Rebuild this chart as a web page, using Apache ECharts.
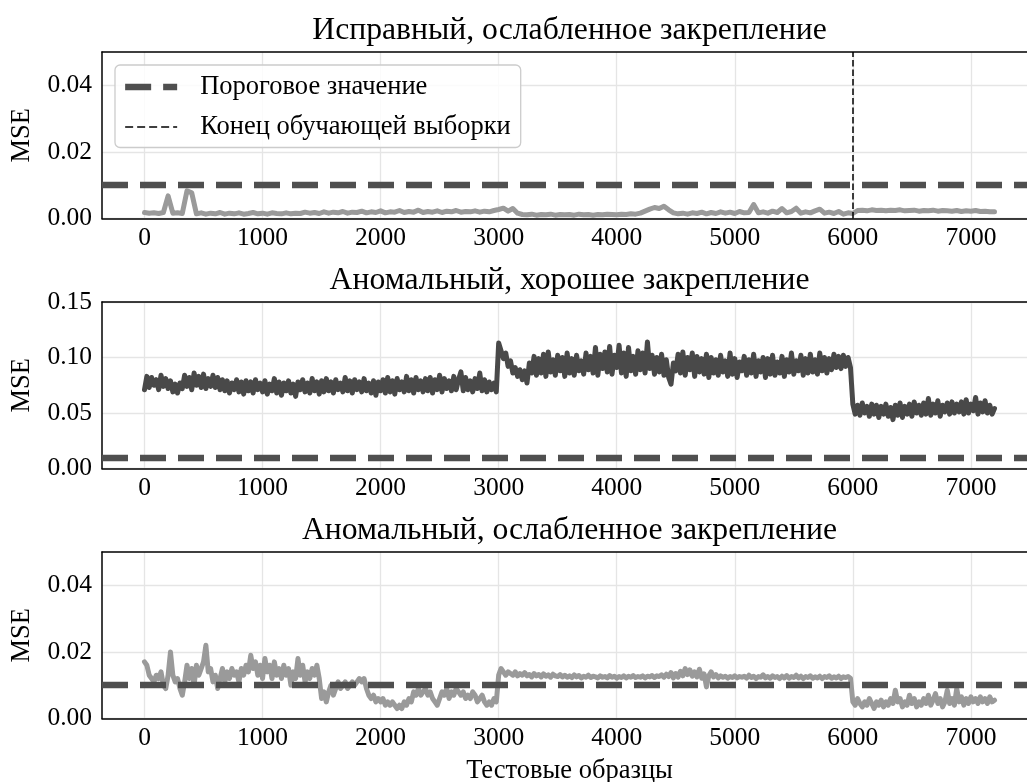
<!DOCTYPE html>
<html lang="ru">
<head>
<meta charset="utf-8">
<title>MSE: тестовые образцы</title>
<script src="https://cdn.jsdelivr.net/npm/echarts@6/dist/echarts.min.js"></script>
<style>
    html, body { margin: 0; padding: 0; background: #fff; }
    #chart { width: 1027px; height: 782px; }
</style>
</head>
<body>
<div id="chart"></div>
<script>
// ---- данные ----
var panelTitles = ['Исправный, ослабленное закрепление', 'Аномальный, хорошее закрепление', 'Аномальный, ослабленное закрепление'];
var threshold = 0.01;      // пороговое значение
var trainEnd = 6000;       // конец обучающей выборки
var xTicks = [0, 1000, 2000, 3000, 4000, 5000, 6000, 7000];
var yTicksSmall = [0, 0.02, 0.04];
var yTicksBig = [0, 0.05, 0.10, 0.15];

// шаг по образцам для каждой кривой
var step1 = 40, step2 = 20, step3 = 20;

// Исправный, ослабленное закрепление (шаг 40)
var mse1 = [
    .0018, .0016, .0017, .0015, .0018, .0068, .0016, .0017, .0015, .0083,
    .0077, .0014, .0017, .0013, .0016, .0014, .0018, .0013, .0016, .0014,
    .0017, .0013, .0015, .0018, .0014, .0016, .0013, .0017, .0015, .0014,
    .0017, .0014, .0016, .0015, .0019, .0016, .0018, .0015, .0020, .0016,
    .0019, .0017, .0021, .0016, .0019, .0018, .0022, .0017, .0020, .0018,
    .0023, .0017, .0020, .0019, .0024, .0018, .0021, .0019, .0025, .0018,
    .0021, .0019, .0023, .0018, .0022, .0020, .0024, .0019, .0021, .0020,
    .0023, .0019, .0022, .0020, .0024, .0027, .0031, .0022, .0030, .0016,
    .0012, .0011, .0013, .0010, .0012, .0011, .0013, .0010, .0012, .0011,
    .0012, .0010, .0013, .0011, .0012, .0010, .0012, .0011, .0013, .0012,
    .0011, .0013, .0012, .0014, .0013, .0016, .0022, .0028, .0033, .0030,
    .0037, .0026, .0017, .0014, .0016, .0013, .0017, .0015, .0019, .0014,
    .0018, .0015, .0020, .0016, .0019, .0015, .0021, .0017, .0018, .0042,
    .0017, .0020, .0016, .0022, .0018, .0030, .0017, .0021, .0031, .0016,
    .0020, .0017, .0023, .0028, .0016, .0019, .0015, .0021, .0013, .0017,
    .0015, .0024, .0025, .0023, .0026, .0024, .0025, .0023, .0025, .0024,
    .0026, .0023, .0024, .0025, .0022, .0024, .0023, .0025, .0022, .0024,
    .0023, .0022, .0024, .0021, .0023, .0022, .0024, .0021, .0022, .0020,
    .0020
];

// Аномальный, хорошее закрепление (шаг 20)
var mse2 = [
    // 0 .. 2980
    .071, .083, .073, .082, .075, .080, .071, .084, .074, .081, .072, .079, .069, .076, .068,
    .077, .072, .084, .074, .082, .071, .086, .075, .083, .073, .085, .072, .081, .074, .084,
    .073, .082, .071, .080, .070, .079, .068, .077, .071, .080, .069, .078, .067, .079, .070,
    .078, .068, .080, .071, .077, .069, .079, .067, .076, .070, .081, .068, .078, .066, .077,
    .070, .079, .068, .076, .065, .078, .071, .080, .069, .077, .068, .081, .070, .078, .067,
    .079, .069, .081, .070, .078, .068, .080, .071, .077, .069, .082, .070, .079, .068, .080,
    .071, .078, .069, .081, .070, .077, .068, .079, .066, .078, .070, .080, .068, .082, .069,
    .079, .067, .081, .071, .078, .069, .083, .070, .080, .068, .082, .071, .079, .069, .081,
    .070, .082, .068, .080, .071, .084, .069, .081, .072, .079, .070, .083, .071, .080, .087,
    .070, .082, .071, .079, .069, .081, .072, .086, .070, .080, .069, .078, .071, .077, .069,
    // 3000 .. 5980
    .113, .106, .099, .104, .092, .097, .086, .091, .083, .089, .080, .088, .077, .095, .086,
    .101, .084, .099, .086, .103, .083, .105, .087, .098, .084, .102, .088, .100, .083, .104,
    .086, .099, .084, .102, .088, .097, .085, .104, .089, .101, .086, .109, .084, .103, .090,
    .105, .087, .110, .085, .102, .091, .111, .086, .104, .083, .109, .088, .101, .085, .106,
    .089, .104, .086, .114, .090, .102, .085, .100, .087, .103, .084, .098, .082, .076, .095,
    .088, .103, .086, .105, .084, .100, .089, .104, .083, .101, .087, .099, .085, .103, .082,
    .100, .086, .098, .084, .102, .087, .097, .083, .104, .085, .099, .082, .096, .088, .101,
    .084, .098, .086, .103, .083, .097, .087, .100, .082, .099, .085, .102, .084, .096, .086,
    .101, .083, .098, .087, .104, .085, .097, .088, .102, .084, .099, .086, .103, .087, .098,
    .085, .104, .088, .100, .086, .099, .089, .103, .091, .101, .090, .102, .092, .100, .091,
    // 6000 .. 7200
    .058, .049, .057, .048, .059, .050, .056, .047, .058, .049, .057, .046, .056, .049, .058,
    .047, .055, .044, .057, .048, .059, .046, .056, .049, .058, .047, .060, .050, .057, .048,
    .059, .049, .063, .048, .058, .050, .061, .047, .057, .051, .059, .049, .060, .050, .058,
    .051, .060, .049, .062, .050, .058, .052, .064, .049, .059, .051, .061, .050, .057, .049,
    .054
];

// Аномальный, ослабленное закрепление (шаг 20)
var mse3 = [
    // 0 .. 2980
    .017, .016, .013, .012, .011, .013, .012, .014, .010, .009, .013, .020, .013, .011, .012,
    .009, .007, .011, .016, .012, .015, .010, .016, .013, .015, .017, .022, .014, .015, .011,
    .013, .009, .012, .015, .011, .014, .012, .015, .013, .014, .011, .015, .013, .016, .014,
    .019, .015, .017, .013, .016, .012, .018, .014, .016, .012, .017, .013, .015, .012, .016,
    .013, .015, .010, .014, .012, .018, .013, .016, .011, .014, .012, .015, .013, .016, .012,
    .006, .008, .005, .008, .010, .007, .009, .011, .009, .010, .011, .009, .010, .011, .010,
    .011, .012, .011, .012, .009, .007, .006, .007, .005, .006, .005, .006, .004, .005, .004,
    .005, .004, .003, .004, .003, .005, .004, .006, .005, .008, .007, .009, .007, .008, .009,
    .007, .008, .006, .005, .004, .006, .008, .007, .009, .006, .008, .007, .009, .008, .007,
    .008, .006, .007, .006, .008, .007, .005, .006, .007, .005, .004, .005, .004, .006, .005,
    // 3000 .. 5980
    .013, .015, .014, .013, .014, .0135, .013, .014, .0128, .0135, .013, .0138, .0128, .0132, .0125,
    .0135, .0128, .0132, .0125, .0134, .0127, .0131, .0124, .0133, .0128, .0126, .0132, .0125, .0130, .0124,
    .0128, .0123, .0131, .0125, .0129, .0122, .0127, .0124, .0130, .0123, .0127, .0125, .0122, .0128, .0124,
    .0126, .0122, .0129, .0124, .0127, .0121, .0126, .0123, .0128, .0122, .0127, .0124, .0129, .0123, .0126,
    .0124, .0128, .0122, .0127, .0125, .0129, .0123, .0128, .0126, .0131, .0124, .0133, .0126, .0138, .0122,
    .0135, .0124, .0142, .0128, .0150, .0132, .0146, .0127, .0140, .0125, .0148, .0121, .0134, .0095, .0128,
    .0140, .0125, .0132, .0122, .0128, .0124, .0127, .0121, .0126, .0123, .0128, .0122, .0126, .0124, .0127,
    .0121, .0130, .0123, .0127, .0120, .0126, .0124, .0131, .0122, .0126, .0121, .0128, .0123, .0126, .0120,
    .0127, .0122, .0129, .0121, .0126, .0123, .0130, .0122, .0127, .0120, .0126, .0123, .0128, .0121, .0125,
    .0122, .0127, .0120, .0126, .0123, .0128, .0121, .0125, .0122, .0127, .0120, .0125, .0123, .0126, .0121,
    // 6000 .. 7200
    .005, .004, .006, .0045, .0035, .005, .004, .006, .0045, .003, .005, .004, .0055, .0035, .005,
    .004, .006, .0045, .0085, .005, .006, .0035, .005, .004, .007, .0045, .006, .0035, .005, .004,
    .006, .0045, .007, .004, .0055, .0075, .0045, .006, .0035, .005, .0085, .0045, .006, .004, .009,
    .005, .0065, .004, .006, .0045, .0065, .005, .006, .0045, .0065, .005, .006, .0045, .0065, .005,
    .0055
];

// ---- оформление ----
var FONT = 'Liberation Serif';
var gridTops = [52, 302, 552];
var lineColors = ['#9a9a9a', '#494949', '#9a9a9a'];
var yMax = [0.05, 0.15, 0.05];
var yTicks = [yTicksSmall, yTicksBig, yTicksSmall];
var seriesVals = [[mse1, step1], [mse2, step2], [mse3, step3]];
var thrStyle = { color: '#4f4f4f', width: 6.3, type: [26, 12] };
var endStyle = { color: '#000', width: 1.5, type: [6.5, 3] };
var spine = { show: true, onZero: false, lineStyle: { color: '#000', width: 1.5 } };
var nameFont = { fontFamily: FONT, fontSize: 26.5, color: '#000' };

function toPairs(vals, step) {
    return vals.map(function (v, i) { return [i * step, v]; });
}

var grids = [], xAxes = [], topAxes = [], yAxes = [], series = [], graphics = [];
for (var p = 0; p < 3; p++) {
    grids.push({ left: 102, top: gridTops[p], width: 935, height: 166.5, outerBoundsMode: 'none' });
    var xa = {
        gridIndex: p, type: 'value', position: 'bottom', min: -360, max: 7560,
        axisLine: spine,
        axisTick: { show: false, customValues: xTicks },
        axisLabel: { customValues: xTicks, fontFamily: FONT, fontSize: 25.5, color: '#000', margin: 7, formatter: function (v) { return String(v); } },
        splitLine: { show: true, lineStyle: { color: '#e5e5e5', width: 1.3 } }
    };
    if (p == 2) {
        xa.name = 'Тестовые образцы';
        xa.nameLocation = 'middle';
        xa.nameGap = 39;
        xa.nameTextStyle = nameFont;
    }
    xAxes.push(xa);
    // верхняя рамка
    topAxes.push({
        gridIndex: p, type: 'value', position: 'top', min: -360, max: 7560,
        axisLine: spine, axisTick: { show: false }, axisLabel: { show: false }, splitLine: { show: false }
    });
    yAxes.push({
        gridIndex: p, type: 'value', min: 0, max: yMax[p],
        axisLine: spine,
        axisTick: { show: false, customValues: yTicks[p] },
        axisLabel: { customValues: yTicks[p], fontFamily: FONT, fontSize: 25.5, color: '#000', margin: 10, formatter: function (v) { return v.toFixed(2); } },
        splitLine: { show: true, lineStyle: { color: '#e5e5e5', width: 1.3 } },
        name: 'MSE', nameLocation: 'middle', nameGap: 66,
        nameTextStyle: nameFont
    });
    series.push({
        type: 'line', xAxisIndex: p, yAxisIndex: p,
        data: toPairs(seriesVals[p][0], seriesVals[p][1]),
        symbol: 'none', showSymbol: false, silent: true, z: 2,
        lineStyle: { color: lineColors[p], width: 5, join: 'round', cap: 'round' }
    });
    series.push({
        name: 'Пороговое значение', type: 'line', xAxisIndex: p, yAxisIndex: p,
        data: [], symbol: 'none', z: 3, lineStyle: thrStyle, itemStyle: { color: thrStyle.color },
        markLine: { silent: true, symbol: 'none', animation: false, label: { show: false }, lineStyle: thrStyle, data: [{ yAxis: threshold }] }
    });
    // заголовок панели
    graphics.push({
        type: 'text', x: 569.5, y: gridTops[p] - 37, silent: true,
        style: { text: panelTitles[p], fill: '#000', font: '31.7px "' + FONT + '"', textAlign: 'center', textVerticalAlign: 'top' }
    });
}
series.push({
    name: 'Конец обучающей выборки', type: 'line', xAxisIndex: 0, yAxisIndex: 0,
    data: [], symbol: 'none', z: 4, lineStyle: endStyle, itemStyle: { color: '#000' },
    markLine: { silent: true, symbol: 'none', animation: false, label: { show: false }, lineStyle: endStyle, data: [{ xAxis: trainEnd }] }
});

var chart = echarts.init(document.getElementById('chart'), null, { renderer: 'canvas' });
chart.setOption({
    animation: false,
    backgroundColor: '#fff',
    grid: grids,
    xAxis: xAxes.concat(topAxes),
    yAxis: yAxes,
    series: series,
    graphic: graphics,
    legend: {
        left: 115, top: 65, orient: 'vertical',
        itemWidth: 52, itemHeight: 25, itemGap: 13,
        padding: [8.5, 10, 7, 7],
        backgroundColor: 'rgba(255,255,255,0.85)', borderColor: '#cccccc', borderWidth: 1.3, borderRadius: 5,
        selectedMode: false,
        itemStyle: { opacity: 0 },
        textStyle: { fontFamily: FONT, fontSize: 26.5, color: '#000', padding: [0, 0, 0, 18] },
        data: [
            { name: 'Пороговое значение', lineStyle: thrStyle },
            { name: 'Конец обучающей выборки', lineStyle: { color: '#000', width: 1.5, type: [8, 4] } }
        ]
    }
});
</script>
</body>
</html>
